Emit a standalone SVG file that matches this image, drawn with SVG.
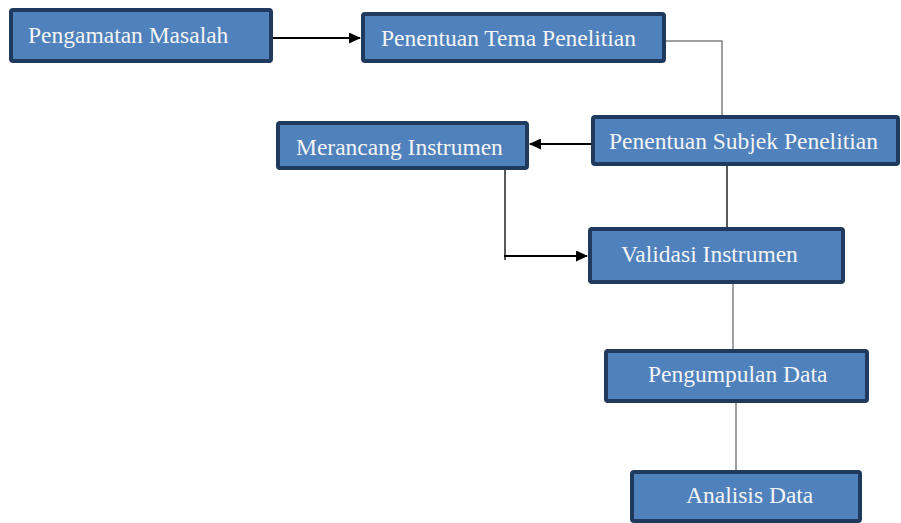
<svg xmlns="http://www.w3.org/2000/svg" width="901" height="523" viewBox="0 0 901 523">
<style>
.box{fill:#4f81bd;stroke:#1f3a5c;stroke-width:4;}
text{font-family:'Liberation Serif','Times New Roman',serif;font-size:23.5px;fill:#f4f4f4;}
.ln{stroke:#000;stroke-width:1.3;fill:none;}
.lg{stroke:#808080;stroke-width:1.5;fill:none;}
.ar{stroke:#000;stroke-width:2;fill:none;}
</style>
<defs>
<marker id="ah" markerWidth="12" markerHeight="11" refX="11" refY="5.5" orient="auto" markerUnits="userSpaceOnUse">
<path d="M0,0 L12,5.5 L0,11 Z" fill="#000"/>
</marker>
</defs>
<rect width="901" height="523" fill="#fff"/>
<g id="connectors">
<line class="ar" x1="273" y1="38" x2="360" y2="38" marker-end="url(#ah)"/>
<polyline class="lg" points="666,41 722,41 722,115"/>
<line class="ar" x1="596" y1="144" x2="530" y2="144" marker-end="url(#ah)"/>
<line class="ln" x1="505" y1="163" x2="505" y2="260"/>
<line class="ar" x1="504" y1="256" x2="587" y2="256" marker-end="url(#ah)"/>
<line class="ln" x1="727" y1="164" x2="727" y2="227"/>
<line class="lg" x1="733" y1="279" x2="733" y2="350"/>
<line class="lg" x1="736" y1="397" x2="736" y2="470"/>
</g>
<g id="n1"><rect class="box" x="11" y="10" width="260" height="51" rx="2"/><text x="28" y="43" font-family="Liberation Serif, serif">Pengamatan Masalah</text></g>
<g id="n2"><rect class="box" x="363" y="14" width="301" height="47" rx="2"/><text x="381" y="46" font-family="Liberation Serif, serif">Penentuan Tema Penelitian</text></g>
<g id="n3"><rect class="box" x="593" y="117" width="305" height="47" rx="2"/><text x="609" y="149" font-family="Liberation Serif, serif">Penentuan Subjek Penelitian</text></g>
<g id="n4"><rect class="box" x="278" y="123" width="249" height="45" rx="2"/><text x="296" y="155" font-family="Liberation Serif, serif">Merancang Instrumen</text></g>
<g id="n5"><rect class="box" x="590" y="229" width="253" height="53" rx="2"/><text x="621" y="262" font-family="Liberation Serif, serif">Validasi Instrumen</text></g>
<g id="n6"><rect class="box" x="606" y="351" width="261" height="50" rx="2"/><text x="648" y="382" font-family="Liberation Serif, serif">Pengumpulan Data</text></g>
<g id="n7"><rect class="box" x="632" y="472" width="228" height="49" rx="2"/><text x="686" y="503" font-family="Liberation Serif, serif">Analisis Data</text></g>
</svg>
